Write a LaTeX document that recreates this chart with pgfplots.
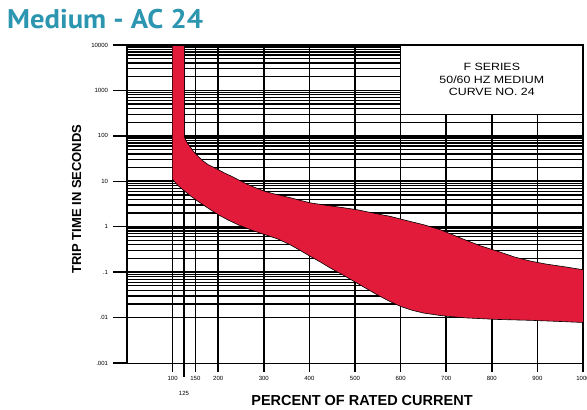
\documentclass[border=0pt]{standalone}
\usepackage{pgfplots}
\pgfplotsset{compat=1.18}
\usepackage{fontspec}
\setmainfont{Liberation Sans}
\newfontfamily\ptsans{PT Sans}
\definecolor{band}{RGB}{227,27,59}
\definecolor{titleteal}{RGB}{44,150,177}
\begin{document}
\begin{tikzpicture}[x=1pt,y=1pt]
\path[use as bounding box] (0,0) rectangle (587,410);
\node[anchor=base west, inner sep=0, text=titleteal, xscale=1.06, font=\ptsans\bfseries\fontsize{27}{31}\selectfont] at (7,381) {Medium - AC 24};
\begin{axis}[
  at={(127pt,47pt)}, anchor=south west,
  scale only axis, width=456pt, height=318pt,
  xmin=0, xmax=1000, ymode=log, ymin=1e-3, ymax=1e4,
  clip=false,
  axis line style={draw=none},
  xtick={100,150,200,300,400,500,600,700,800,900,1000},
  xticklabels={100,150,200,300,400,500,600,700,800,900,1000},
  ytick={1e-2,1e-1,1,10,100,1000,10000},
  yticklabels={.01,.1,1,10,100,1000,10000},
  extra y ticks={1e-3}, extra y tick labels={.001},
  extra y tick style={grid=none},
  extra x ticks={125}, extra x tick labels={125},
  extra x tick style={xticklabel style={yshift=-15pt}},
  major tick length=0pt, minor tick length=0pt,
  tick label style={font=\fontsize{6}{7}\selectfont},
  xticklabel style={yshift=-10pt},
  yticklabel style={xshift=-15.5pt},
  ymajorgrids, yminorgrids,
  major grid style={black, line width=1.7pt},
  minor grid style={black, line width=1.3pt},
  /pgf/number format/assume math mode=true,
]
% vertical grid lines with tick extensions
\pgfplotsinvokeforeach{100,150}{\draw[black, line width=1.1pt] ([yshift=-9pt]axis cs:#1,0.001) -- (axis cs:#1,10000);}
\pgfplotsinvokeforeach{200,300,400,500,600,700,800,900}{\draw[black, line width=1.6pt] ([yshift=-9pt]axis cs:#1,0.001) -- (axis cs:#1,10000);}
\draw[black, line width=2.2pt] ([yshift=-9pt]axis cs:1000,0.001) -- (axis cs:1000,10000);
\draw[black, line width=2.4pt] ([yshift=-14pt]axis cs:125,0.001) -- (axis cs:125,10000);
% y tick extensions
\pgfplotsinvokeforeach{0.001,0.01,0.1,1,10,100,1000}{\draw[black, line width=1.3pt] ([xshift=-14pt]axis cs:0,#1) -- (axis cs:0,#1);}
% red band
\addplot[fill=band, draw=none] coordinates {
(125,10000) (125,100) (127,88) (130,76) (134,66) (138,58.5) (146,45) (156,35.3) (166,28.5) (178,23.2) (190,20.3) (200,18) (215,15) (230,12.8) (248,10.3) (266,8.4) (285,7.0) (303,6.0) (320,5.35) (340,4.8) (360,4.3) (380,3.8) (402,3.35) (435,2.98) (468,2.68) (504,2.37) (540,2.0) (577,1.69) (615,1.35) (650,1.11) (687,0.86) (712,0.68) (738,0.53) (775,0.38) (812,0.29) (850,0.215) (885,0.175) (920,0.15) (958,0.132) (1000,0.113)
(1000,0.0078) (950,0.0082) (885,0.0087) (812,0.0091) (738,0.0099) (687,0.0111) (650,0.0126) (625,0.0145) (600,0.0176) (575,0.023) (548,0.032) (526,0.043) (504,0.0575) (475,0.085) (446,0.123) (425,0.165) (402,0.222) (380,0.30) (358,0.40) (330,0.54) (300,0.68) (272,0.85) (244,1.1) (222,1.4) (200,1.84) (178,2.55) (156,3.6) (140,4.7) (127,6.0) (118,7.1) (110,8.4) (105,9.6) (100,11) (100,10000)
} -- cycle;
% outlines
\addplot[black, line width=0.6pt] coordinates {
(125,100) (127,88) (130,76) (134,66) (138,58.5) (146,45) (156,35.3) (166,28.5) (178,23.2) (190,20.3) (200,18) (215,15) (230,12.8) (248,10.3) (266,8.4) (285,7.0) (303,6.0) (320,5.35) (340,4.8) (360,4.3) (380,3.8) (402,3.35) (435,2.98) (468,2.68) (504,2.37) (540,2.0) (577,1.69) (615,1.35) (650,1.11) (687,0.86) (712,0.68) (738,0.53) (775,0.38) (812,0.29) (850,0.215) (885,0.175) (920,0.15) (958,0.132) (1000,0.113)};
\addplot[black, line width=0.6pt] coordinates {
(100,11) (105,9.6) (110,8.4) (118,7.1) (127,6.0) (140,4.7) (156,3.6) (178,2.55) (200,1.84) (222,1.4) (244,1.1) (272,0.85) (300,0.68) (330,0.54) (358,0.40) (380,0.30) (402,0.222) (425,0.165) (446,0.123) (475,0.085) (504,0.0575) (526,0.043) (548,0.032) (575,0.023) (600,0.0176) (625,0.0145) (650,0.0126) (687,0.0111) (738,0.0099) (812,0.0091) (885,0.0087) (950,0.0082) (1000,0.0078)};
% borders
\draw[black, line width=1pt] ([xshift=-14pt]axis cs:0,0.001) -- (axis cs:1000,0.001);
\draw[black, line width=2.6pt] (axis cs:0,0.001) -- (axis cs:0,10000);
\draw[black, line width=2.6pt] ([xshift=-14pt]axis cs:0,10000) -- (axis cs:1000,10000);
% text box
\draw[black, line width=1.3pt, fill=white] (axis cs:600,300) rectangle (axis cs:1000,10000);
\node[align=center, xscale=1.18, font=\fontsize{10.5}{12.7}\selectfont, inner sep=0] at (axis cs:800,1732) {F SERIES\\50/60 HZ MEDIUM\\CURVE NO. 24};
\end{axis}
\node[rotate=90, anchor=base, inner sep=0, font=\bfseries\fontsize{13}{15}\selectfont] at (81,211) {TRIP TIME IN SECONDS};
\node[anchor=base, inner sep=0, font=\bfseries\fontsize{14.5}{16}\selectfont] at (362,4.3) {PERCENT OF RATED CURRENT};
\end{tikzpicture}
\end{document}
